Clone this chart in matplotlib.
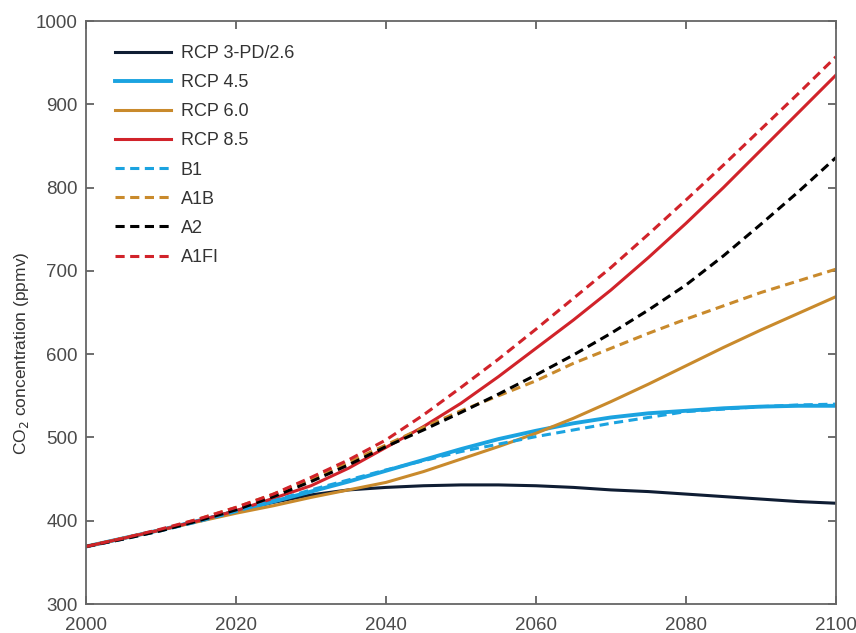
import numpy as np
import matplotlib.pyplot as plt

plt.rcParams['font.family'] = ['Liberation Sans', 'DejaVu Sans']

years = list(range(2000, 2101, 5))

rcp26 = [369, 379, 389, 400, 412, 422, 431, 437, 440, 442, 443,
         443, 442, 440, 437, 435, 432, 429, 426, 423, 421]
rcp45 = [369, 379, 389, 400, 411, 423, 435, 447, 460, 473, 486,
         498, 508, 517, 524, 529, 532, 535, 537, 538, 538]
rcp60 = [369, 379, 389, 399, 409, 418, 428, 437, 446, 459, 474,
         489, 505, 523, 543, 564, 586, 608, 629, 649, 669]
rcp85 = [369, 379, 389, 400, 412, 427, 442, 463, 488, 513, 541,
         573, 607, 641, 677, 716, 757, 800, 845, 890, 935]
b1 = [369, 378, 388, 399, 411, 424, 437, 449, 461, 472, 483,
      492, 501, 509, 517, 524, 531, 534, 537, 539, 540]
a1b = [369, 379, 389, 402, 416, 432, 450, 470, 491, 512, 532,
       550, 568, 589, 607, 625, 642, 658, 674, 688, 702]
a2 = [369, 378, 388, 400, 413, 429, 447, 467, 489, 509, 530,
      552, 575, 599, 625, 653, 683, 718, 756, 795, 836]
a1fi = [369, 379, 390, 402, 416, 432, 452, 473, 497, 527, 560,
        594, 630, 667, 704, 744, 785, 827, 870, 913, 957]

navy = "#0f1d33"
blue = "#1ba3e0"
orange = "#c98a2c"
red = "#d1232a"
black = "#000000"

fig = plt.figure(figsize=(8.56, 6.33), dpi=100)
ax = fig.add_axes([0.1005, 0.0458, 0.876, 0.921])

lw = 2.2
dash = (0, (3, 1.8))
ax.plot(years, rcp26, c=navy, lw=lw, label="RCP 3-PD/2.6")
ax.plot(years, rcp45, c=blue, lw=lw + 0.6, label="RCP 4.5")
ax.plot(years, rcp60, c=orange, lw=lw, label="RCP 6.0")
ax.plot(years, rcp85, c=red, lw=lw, label="RCP 8.5")
ax.plot(years, b1, c=blue, lw=lw, ls=dash, label="B1")
ax.plot(years, a1b, c=orange, lw=lw, ls=dash, label="A1B")
ax.plot(years, a2, c=black, lw=lw, ls=dash, label="A2")
ax.plot(years, a1fi, c=red, lw=lw, ls=dash, label="A1FI")

ax.set_xlim(2000, 2100)
ax.set_ylim(300, 1000)
ax.set_xticks(range(2000, 2101, 20))
ax.set_yticks(range(300, 1001, 100))
ax.tick_params(direction="in", top=True, right=True, length=6, width=1.2,
               color="#555555", labelsize=13.5, labelcolor="#4a4a4a")
ax.tick_params(axis="x", pad=9)
ax.tick_params(axis="y", pad=6)
for s in ax.spines.values():
    s.set_color("#666666")
    s.set_linewidth(1.3)

ax.set_ylabel("CO$_2$ concentration (ppmv)", fontsize=12.5, color="#333333")
ax.yaxis.set_label_coords(-0.073, 0.43)

ax.legend(loc="upper left", bbox_to_anchor=(0.029, 0.971), borderaxespad=0,
          frameon=False, fontsize=13, handlelength=3.1,
          labelspacing=0.67, handletextpad=0.55, labelcolor="#333333")

fig.savefig("out.png", dpi=100)
